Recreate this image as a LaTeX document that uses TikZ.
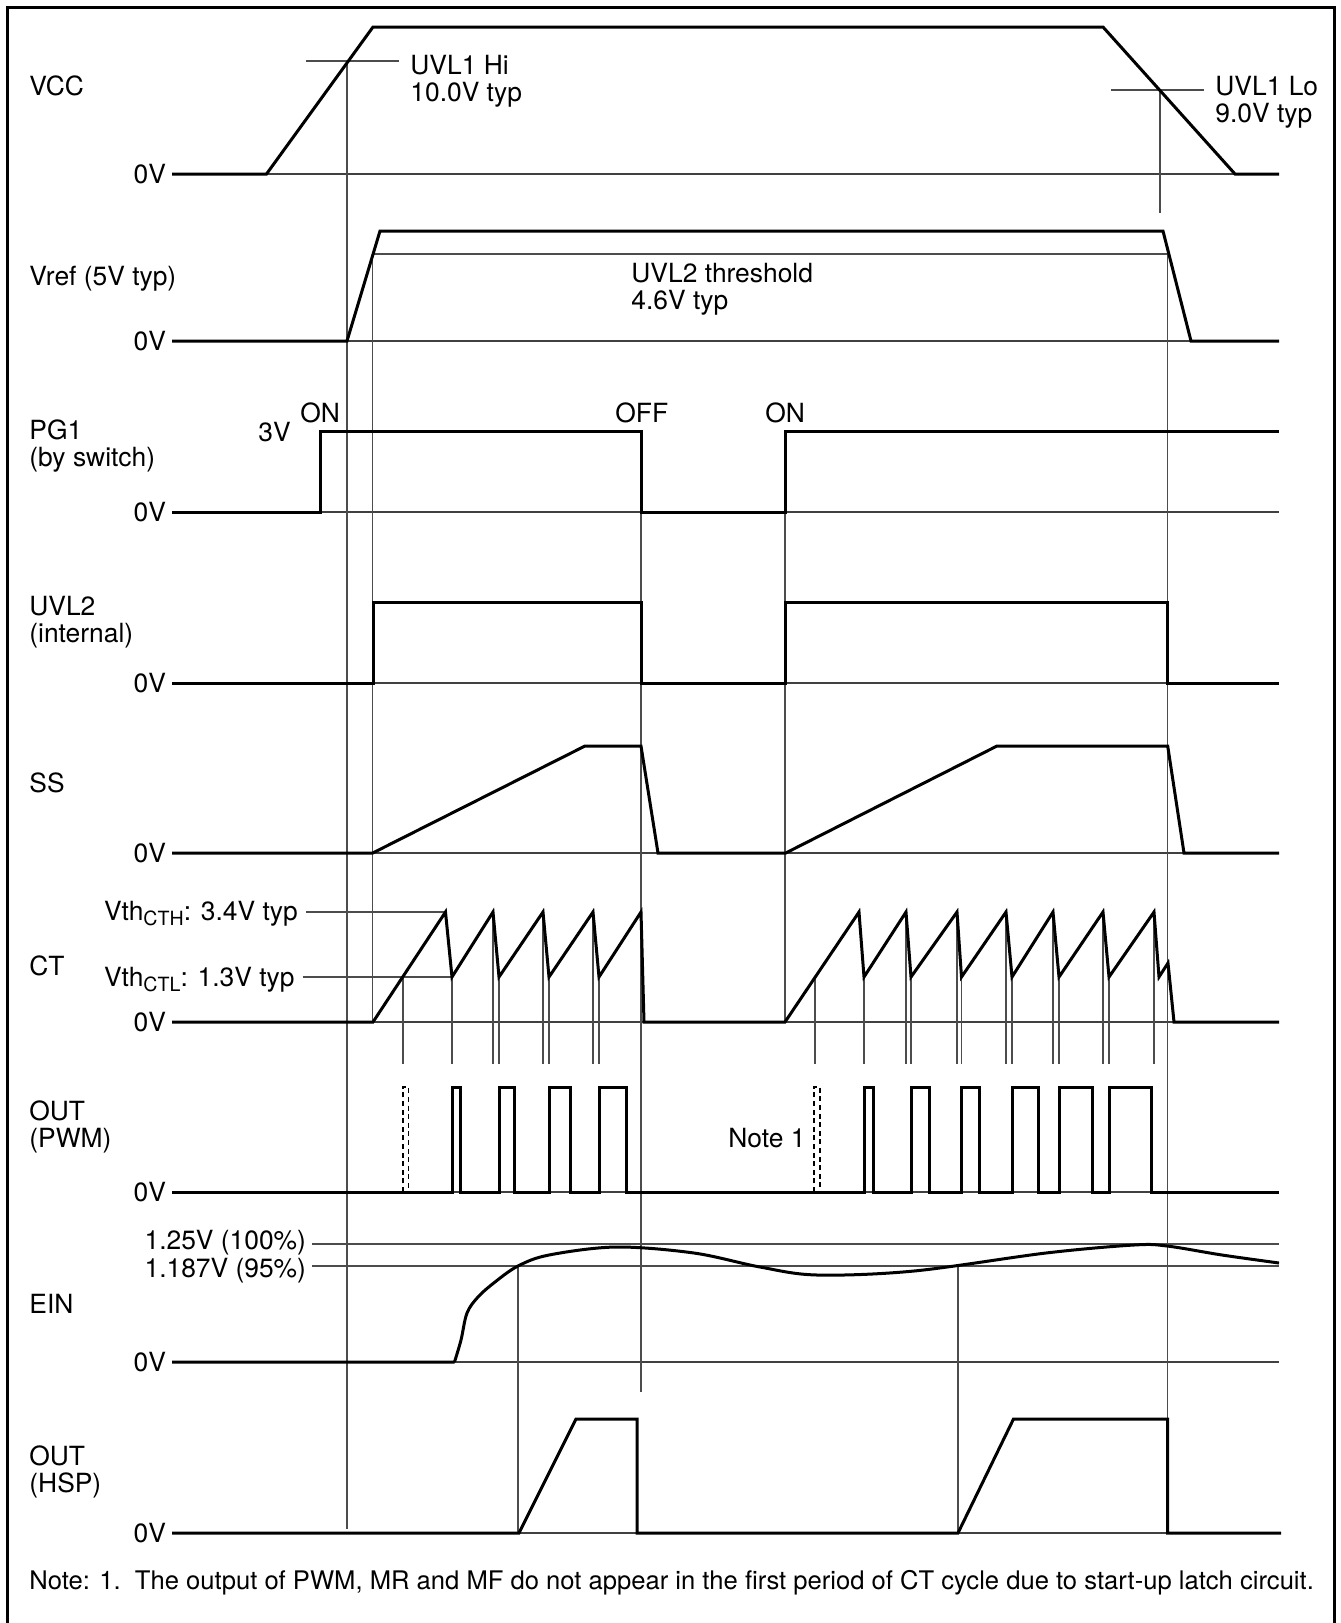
\documentclass[tikz,border=0pt]{standalone}
\usepackage{fontspec}
\setmainfont{TeX Gyre Heros}
\newcommand{\vsub}[1]{\raisebox{-2.6pt}{\fontsize{9.8}{10}\selectfont #1}}
\begin{document}
\begin{tikzpicture}[
  x=0.5pt, y=-0.5pt,
  sig/.style={line width=1.5pt},
  guide/.style={line width=0.6pt, black!70},
  zero/.style={line width=0.6pt, black!75},
  lbl/.style={anchor=base west, inner sep=0pt, align=left},
  zv/.style={anchor=east, inner sep=0pt, outer xsep=3pt},
  font=\fontsize{13.2}{13.5}\selectfont
]
\useasboundingbox (0,0) rectangle (1340,1623);
\draw[line width=1.5pt] (7.5,1623) -- (7.5,7.5) -- (1334.5,7.5) -- (1334.5,1623);

% labels on the left (base = last line)
\node[lbl] (vcc) at (29,95) {VCC};
\node[lbl] (vref) at (29,285) {Vref (5V typ)};
\node[lbl] (pg1) at (29,466) {PG1\\(by switch)};
\node[lbl] (uvl2) at (29,642) {UVL2\\(internal)};
\node[lbl] (ss) at (29,792) {SS};
\node[lbl] (ct) at (29,975) {CT};
\node[lbl] (pwm) at (29,1147) {OUT\\(PWM)};
\node[lbl] (ein) at (29,1313) {EIN};
\node[lbl] (hsp) at (29,1492) {OUT\\(HSP)};

% 0V levels
\node[zv] (vcc0) at (172,174) {0V};
\node[zv] (vref0) at (172,341) {0V};
\node[zv] (pg10) at (172,512) {0V};
\node[zv] (uvl20) at (172,683) {0V};
\node[zv] (ss0) at (172,853) {0V};
\node[zv] (ct0) at (172,1022) {0V};
\node[zv] (pwm0) at (172,1192) {0V};
\node[zv] (ein0) at (172,1362) {0V};
\node[zv] (hsp0) at (172,1533) {0V};
\draw[zero] (vcc0.east) -- (1279,174);
\draw[zero] (vref0.east) -- (1279,341);
\draw[zero] (pg10.east) -- (1279,512);
\draw[zero] (uvl20.east) -- (1279,683);
\draw[zero] (ss0.east) -- (1279,853);
\draw[zero] (ct0.east) -- (1279,1022);
\draw[zero] (pwm0.east) -- (1279,1192);
\draw[zero] (ein0.east) -- (1279,1362);
\draw[zero] (hsp0.east) -- (1279,1533);

% thresholds and their texts
\node[lbl] (uvlhi) at (410,101) {UVL1 Hi\\10.0V typ};
\node[lbl] (uvllo) at (1215,122) {UVL1 Lo\\9.0V typ};
\node[lbl] (uvlth) at (631,309) {UVL2 threshold\\4.6V typ};
\node[lbl] (pg3v) at (258,441) {3V};
\node[lbl] (on1) at (300,422) {ON};
\node[lbl] (off) at (615,422) {OFF};
\node[lbl] (on2) at (765,422) {ON};
\node[lbl, outer xsep=4pt] (cth) at (96,920) {Vth\vsub{CTH}: 3.4V typ};
\node[lbl, outer xsep=4pt] (ctl) at (96,986) {Vth\vsub{CTL}: 1.3V typ};
\node[lbl] (note1) at (728,1147) {Note 1};
\node[anchor=base east, inner sep=0pt, outer xsep=3pt] (e100) at (312,1249) {1.25V (100\%)};
\node[anchor=base east, inner sep=0pt, outer xsep=3pt] (e95) at (312,1277) {1.187V (95\%)};
\node[lbl, font=\fontsize{12.8}{13}\selectfont] (note) at (29,1589) {Note: 1.\ \ The output of PWM, MR and MF do not appear in the first period of CT cycle due to start-up latch circuit.};

\coordinate (hiL) at (306,61);
\coordinate (hiR) at (399,61);
\coordinate (loL) at (1111,90);
\coordinate (loR) at (1204,90);
\coordinate (thL) at (372.7,254);
\coordinate (thR) at (1167.5,254);
\coordinate (pk1) at (445.5,912);
\coordinate (vl1) at (452,977);
\draw[guide] (hiL) -- (hiR);
\draw[guide] (loL) -- (loR);
\draw[guide] (thL) -- (thR);
\draw[guide] (cth.east |- pk1) -- (pk1);
\draw[guide] (ctl.east |- vl1) -- (vl1);
\draw[guide] (e100.east |- 0,1244) -- (1279,1244);
\draw[guide] (e95.east |- 0,1266) -- (1279,1266);

% timing guides
\draw[guide] (347,61) -- (347,1529);
\draw[guide] (thL) -- (372.7,1022);
\draw[guide] (641,512) -- (641,1392);
\draw[guide] (785,512) -- (785,1022);
\draw[guide] (thR) -- (1167.5,1533);
\draw[guide] (1160,90) -- (1160,213);
\draw[guide] (518,1266) -- (518,1533);
\draw[guide] (958,1266) -- (958,1533);
\draw[guide] (403,977) -- (403,1064) (452,977) -- (452,1064)
  (493,912) -- (493,1064) (499,977) -- (499,1064)
  (543,912) -- (543,1064) (549,977) -- (549,1064)
  (593,912) -- (593,1064) (599,977) -- (599,1064);
\draw[guide] (815,977) -- (815,1064) (864,977) -- (864,1064)
  (906,912) -- (906,1064) (911,977) -- (911,1064)
  (957,912) -- (957,1064) (961.5,977) -- (961.5,1064)
  (1006,912) -- (1006,1064) (1012,977) -- (1012,1064)
  (1053,912) -- (1053,1064) (1059,977) -- (1059,1064)
  (1103,912) -- (1103,1064) (1109,977) -- (1109,1064)
  (1154,912) -- (1154,1064);

% waveforms
\draw[sig] (vcc0.east) -- (266.5,174) -- (373,27) -- (1103,27) -- (1235,174) -- (1279,174);
\draw[sig] (vref0.east) -- (347,341) -- (380,231) -- (1163,231) -- (1191,341) -- (1279,341);
\draw[sig] (pg10.east) -- (320,512) |- (641,431) |- (785,512) |- (1279,431);
\draw[sig] (uvl20.east) -- (373,683) |- (641,602) |- (785,683) |- (1167.5,602) |- (1279,683);
\draw[sig] (ss0.east) -- (372.7,853) -- (585,746) -- (641,746) -- (658,853) -- (785.7,853)
  -- (997,746) -- (1167.7,746) -- (1184,853) -- (1279,853);
\draw[sig] (ct0.east) -- (373,1022) -- (pk1) -- (vl1) -- (493,912) -- (499,977) -- (543,912)
  -- (549,977) -- (593,912) -- (599,977) -- (641,912) -- (644,1022) -- (785,1022)
  -- (859,912) -- (864,977) -- (906,912) -- (911,977) -- (957,912) -- (961.5,977)
  -- (1006,912) -- (1012,977) -- (1053,912) -- (1059,977) -- (1103,912) -- (1109,977)
  -- (1154,912) -- (1159,977) -- (1168,963) -- (1174,1022) -- (1279,1022);
\draw[sig] (pwm0.east) -- (452,1192) |- (460,1087) |- (499,1192) |- (514,1087)
  |- (549,1192) |- (570,1087) |- (599,1192) |- (626,1087) |- (864,1192)
  |- (873.5,1087) |- (911,1192) |- (929,1087) |- (961.5,1192) |- (979,1087)
  |- (1012,1192) |- (1038.5,1087) |- (1059,1192) |- (1092,1087) |- (1109,1192)
  |- (1151,1087) |- (1279,1192);
\draw[line width=0.6pt, dash pattern=on 2.5pt off 1.8pt] (403,1192) |- (408.5,1087) -- (408.5,1192);
\draw[line width=0.6pt, dash pattern=on 2.5pt off 1.8pt] (814,1192) |- (820,1087) -- (820,1192);
\draw[sig] (ein0.east) -- (454.5,1362) plot[smooth, tension=0.55] coordinates {(454.5,1362)
  (461,1340) (467,1313) (478,1297) (495,1282) (518,1266) (549,1255) (616,1247) (694,1253)
  (760,1267) (817,1275) (914,1271) (1046,1253) (1134,1245) (1167,1246) (1222,1255) (1279,1263)};
\draw[sig] (hsp0.east) -- (519,1533) -- (576,1419) -- (637,1419) -- (637,1533) -- (958,1533)
  -- (1013.5,1419) -- (1167.5,1419) -- (1167.5,1533) -- (1281,1533);
\end{tikzpicture}
\end{document}
